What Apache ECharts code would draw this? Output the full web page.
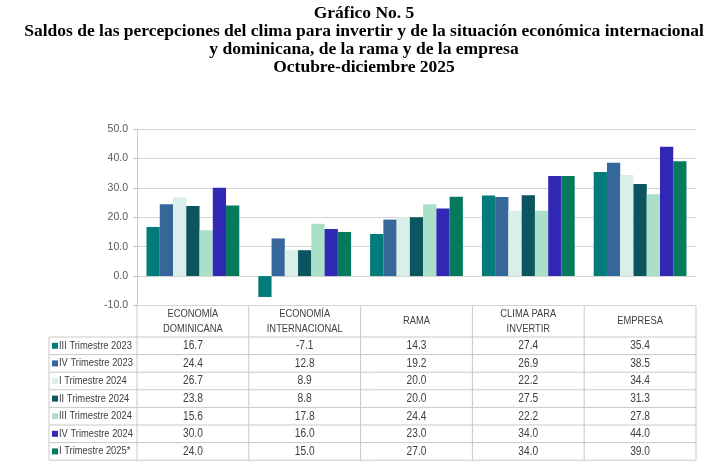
<!DOCTYPE html>
<html><head><meta charset="utf-8">
<script src="https://cdn.jsdelivr.net/npm/echarts@6/dist/echarts.min.js"></script>
<style>html,body{margin:0;padding:0;background:#fff}#c{width:728px;height:473px}</style>
</head><body><div id="c"></div>
<script>
const categories = ['ECONOMÍA\nDOMINICANA', 'ECONOMÍA\nINTERNACIONAL', 'RAMA', 'CLIMA PARA\nINVERTIR', 'EMPRESA'];
const seriesNames = ['III Trimestre 2023', 'IV Trimestre 2023', 'I Trimestre 2024', 'II Trimestre 2024', 'III Trimestre 2024', 'IV Trimestre 2024', 'I Trimestre 2025*'];
const iiiT2023 = [16.7, -7.1, 14.3, 27.4, 35.4];
const ivT2023  = [24.4, 12.8, 19.2, 26.9, 38.5];
const iT2024   = [26.7, 8.9, 20.0, 22.2, 34.4];
const iiT2024  = [23.8, 8.8, 20.0, 27.5, 31.3];
const iiiT2024 = [15.6, 17.8, 24.4, 22.2, 27.8];
const ivT2024  = [30.0, 16.0, 23.0, 34.0, 44.0];
const iT2025   = [24.0, 15.0, 27.0, 34.0, 39.0];
const yMin = -10, yMax = 50, yStep = 10;
const titleLines = ['Gráfico No. 5', 'Saldos de las percepciones del clima para invertir y de la situación económica internacional', 'y dominicana, de la rama y de la empresa', 'Octubre-diciembre 2025'];

const seriesData = [iiiT2023, ivT2023, iT2024, iiT2024, iiiT2024, ivT2024, iT2025];
const colors = ['#017c7b', '#35679a', '#dbefea', '#0b5561', '#aae0c8', '#3129b6', '#057a5c'];

const W = 728, H = 473;
const L = 137, R = 696, T = 129, B = 305.5;
const headBottom = 337, rowH = 17.6, legLeft = 49;
const nCat = categories.length;
const colW = (R - L) / nCat;
const FONT = '"Liberation Sans", Arial, sans-serif';
const SERIF = '"Liberation Serif", "Times New Roman", serif';
const lineColor = '#c9c9c9';
const NARROW = 0.85;

const g = [];
// title
titleLines.forEach((t, i) => {
  g.push({type: 'text', x: W / 2, y: 13 + i * 18, style: {text: t, font: 'bold 17.5px ' + SERIF, fill: '#000', align: 'center', verticalAlign: 'middle'}});
});
// table lines
g.push({type: 'line', shape: {x1: R, y1: B, x2: R, y2: headBottom + 7 * rowH}, style: {stroke: lineColor, lineWidth: 1}});
for (let i = 0; i < nCat; i++) {
  g.push({type: 'line', shape: {x1: L + i * colW, y1: B, x2: L + i * colW, y2: headBottom + 7 * rowH}, style: {stroke: lineColor, lineWidth: 1}});
}
g.push({type: 'line', shape: {x1: legLeft, y1: headBottom, x2: legLeft, y2: headBottom + 7 * rowH}, style: {stroke: lineColor, lineWidth: 1}});
for (let k = 0; k <= 7; k++) {
  g.push({type: 'line', shape: {x1: legLeft, y1: headBottom + k * rowH, x2: R, y2: headBottom + k * rowH}, style: {stroke: lineColor, lineWidth: 1}});
}
// header text
categories.forEach((c, i) => {
  g.push({type: 'text', x: L + (i + 0.5) * colW, y: (B + headBottom) / 2, scaleX: NARROW,
    style: {text: c, font: '11px ' + FONT, fill: '#404040', align: 'center', verticalAlign: 'middle', lineHeight: 14.5}});
});
// rows
seriesNames.forEach((name, r) => {
  const cy = headBottom + (r + 0.5) * rowH;
  g.push({type: 'rect', shape: {x: legLeft + 3, y: cy - 3, width: 6, height: 6}, style: {fill: colors[r]}});
  g.push({type: 'text', x: legLeft + 10, y: cy, scaleX: NARROW, style: {text: name, font: '11px ' + FONT, fill: '#404040', align: 'left', verticalAlign: 'middle'}});
  seriesData[r].forEach((v, i) => {
    g.push({type: 'text', x: L + (i + 0.5) * colW, y: cy, scaleX: NARROW, style: {text: v.toFixed(1), font: '12px ' + FONT, fill: '#404040', align: 'center', verticalAlign: 'middle'}});
  });
});

const chart = echarts.init(document.getElementById('c'), null, {renderer: 'canvas'});
chart.setOption({
  animation: false,
  backgroundColor: '#fff',
  grid: {left: L, right: W - R, top: T, bottom: H - B, containLabel: false},
  xAxis: {
    type: 'category', data: categories,
    axisLine: {show: false}, axisTick: {show: false}, axisLabel: {show: false}
  },
  yAxis: {
    type: 'value', min: yMin, max: yMax, interval: yStep,
    axisLine: {show: true, lineStyle: {color: lineColor}},
    axisTick: {show: true, length: 4, lineStyle: {color: lineColor}},
    axisLabel: {formatter: v => v.toFixed(1), fontFamily: FONT, fontSize: 10.5, color: '#595959', margin: 9},
    splitLine: {show: true, lineStyle: {color: '#d4d4d4'}}
  },
  series: seriesNames.map((n, i) => ({
    name: n, type: 'bar', data: seriesData[i], barGap: '0%', barCategoryGap: '17%',
    itemStyle: {color: colors[i]}
  })),
  graphic: g
});
</script></body></html>
